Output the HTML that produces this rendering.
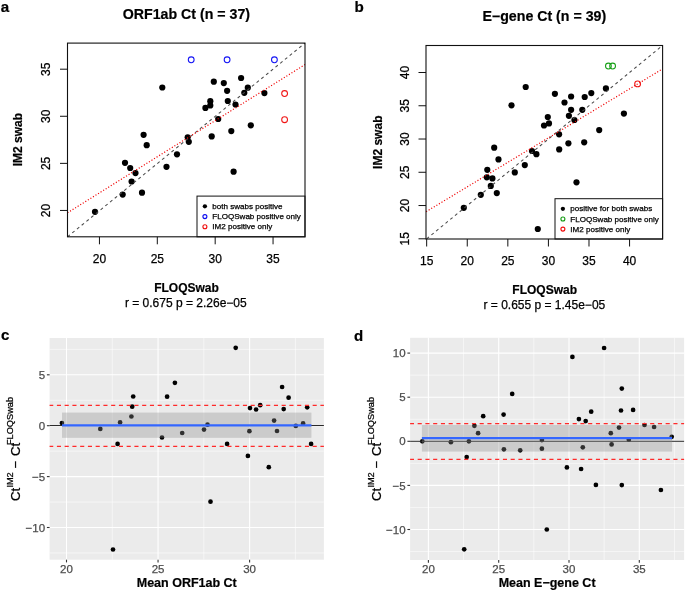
<!DOCTYPE html>
<html><head><meta charset="utf-8"><style>
html,body{margin:0;padding:0;background:#fff;}
body{width:685px;height:591px;overflow:hidden;}
svg{display:block;will-change:transform;font-family:"Liberation Sans", sans-serif;}
</style></head><body>
<svg width="685" height="591" viewBox="0 0 685 591">
<rect width="685" height="591" fill="#fff"/>
<text x="0.7" y="11.9" font-size="15.2" font-weight="bold" text-anchor="start" fill="#000" stroke="#000" stroke-width="0.2">a</text>
<text x="354.5" y="11.9" font-size="15.2" font-weight="bold" text-anchor="start" fill="#000" stroke="#000" stroke-width="0.2">b</text>
<text x="1" y="340.3" font-size="15" font-weight="bold" text-anchor="start" fill="#000" stroke="#000" stroke-width="0.2">c</text>
<text x="354.1" y="340.7" font-size="15" font-weight="bold" text-anchor="start" fill="#000" stroke="#000" stroke-width="0.2">d</text>
<text x="186.4" y="18.7" font-size="14.2" font-weight="bold" text-anchor="middle" fill="#000" stroke="#000" stroke-width="0.2">ORF1ab Ct (n = 37)</text>
<line x1="99.44" y1="236.8" x2="99.44" y2="244.3" stroke="#111" stroke-width="1"/>
<text x="99.44" y="263.4" font-size="12" text-anchor="middle" fill="#000" stroke="#000" stroke-width="0.25">20</text>
<line x1="60" y1="210.44" x2="67.5" y2="210.44" stroke="#111" stroke-width="1"/>
<text x="50.3" y="210.44" font-size="12" text-anchor="middle" fill="#000" stroke="#000" stroke-width="0.25" transform="rotate(-90 50.3 210.44)">20</text>
<line x1="157.31" y1="236.8" x2="157.31" y2="244.3" stroke="#111" stroke-width="1"/>
<text x="157.31" y="263.4" font-size="12" text-anchor="middle" fill="#000" stroke="#000" stroke-width="0.25">25</text>
<line x1="60" y1="163.36" x2="67.5" y2="163.36" stroke="#111" stroke-width="1"/>
<text x="50.3" y="163.36" font-size="12" text-anchor="middle" fill="#000" stroke="#000" stroke-width="0.25" transform="rotate(-90 50.3 163.36)">25</text>
<line x1="215.18" y1="236.8" x2="215.18" y2="244.3" stroke="#111" stroke-width="1"/>
<text x="215.18" y="263.4" font-size="12" text-anchor="middle" fill="#000" stroke="#000" stroke-width="0.25">30</text>
<line x1="60" y1="116.28" x2="67.5" y2="116.28" stroke="#111" stroke-width="1"/>
<text x="50.3" y="116.28" font-size="12" text-anchor="middle" fill="#000" stroke="#000" stroke-width="0.25" transform="rotate(-90 50.3 116.28)">30</text>
<line x1="273.05" y1="236.8" x2="273.05" y2="244.3" stroke="#111" stroke-width="1"/>
<text x="273.05" y="263.4" font-size="12" text-anchor="middle" fill="#000" stroke="#000" stroke-width="0.25">35</text>
<line x1="60" y1="69.2" x2="67.5" y2="69.2" stroke="#111" stroke-width="1"/>
<text x="50.3" y="69.2" font-size="12" text-anchor="middle" fill="#000" stroke="#000" stroke-width="0.25" transform="rotate(-90 50.3 69.2)">35</text>
<text x="21.7" y="139.6" font-size="12" font-weight="bold" text-anchor="middle" fill="#000" stroke="#000" stroke-width="0.2" transform="rotate(-90 21.7 139.6)">IM2 swab</text>
<text x="186.5" y="292.1" font-size="12" font-weight="bold" text-anchor="middle" fill="#000" stroke="#000" stroke-width="0.2">FLOQSwab</text>
<text x="185.8" y="306.8" font-size="12" text-anchor="middle" fill="#000" stroke="#000" stroke-width="0.25">r = 0.675 p = 2.26e−05</text>
<circle cx="162.3" cy="87.5" r="3.1" fill="#000" stroke="none" stroke-width="1"/>
<circle cx="143.6" cy="134.8" r="3.1" fill="#000" stroke="none" stroke-width="1"/>
<circle cx="213.8" cy="81.7" r="3.1" fill="#000" stroke="none" stroke-width="1"/>
<circle cx="223.8" cy="83.1" r="3.1" fill="#000" stroke="none" stroke-width="1"/>
<circle cx="241.1" cy="78" r="3.1" fill="#000" stroke="none" stroke-width="1"/>
<circle cx="247.8" cy="87.7" r="3.1" fill="#000" stroke="none" stroke-width="1"/>
<circle cx="227.1" cy="90.8" r="3.1" fill="#000" stroke="none" stroke-width="1"/>
<circle cx="244.3" cy="92.8" r="3.1" fill="#000" stroke="none" stroke-width="1"/>
<circle cx="264.4" cy="93.1" r="3.1" fill="#000" stroke="none" stroke-width="1"/>
<circle cx="210.3" cy="101.2" r="3.1" fill="#000" stroke="none" stroke-width="1"/>
<circle cx="227.8" cy="101" r="3.1" fill="#000" stroke="none" stroke-width="1"/>
<circle cx="210.3" cy="105.4" r="3.1" fill="#000" stroke="none" stroke-width="1"/>
<circle cx="205.4" cy="107.9" r="3.1" fill="#000" stroke="none" stroke-width="1"/>
<circle cx="235.5" cy="104.5" r="3.1" fill="#000" stroke="none" stroke-width="1"/>
<circle cx="218.2" cy="119" r="3.1" fill="#000" stroke="none" stroke-width="1"/>
<circle cx="250.8" cy="125.3" r="3.1" fill="#000" stroke="none" stroke-width="1"/>
<circle cx="231.3" cy="131.1" r="3.1" fill="#000" stroke="none" stroke-width="1"/>
<circle cx="211.7" cy="136.4" r="3.1" fill="#000" stroke="none" stroke-width="1"/>
<circle cx="187.7" cy="137.3" r="3.1" fill="#000" stroke="none" stroke-width="1"/>
<circle cx="188.8" cy="141.8" r="3.1" fill="#000" stroke="none" stroke-width="1"/>
<circle cx="146.7" cy="145.2" r="3.1" fill="#000" stroke="none" stroke-width="1"/>
<circle cx="177" cy="154.3" r="3.1" fill="#000" stroke="none" stroke-width="1"/>
<circle cx="125" cy="162.8" r="3.1" fill="#000" stroke="none" stroke-width="1"/>
<circle cx="130.2" cy="168" r="3.1" fill="#000" stroke="none" stroke-width="1"/>
<circle cx="135.5" cy="173.1" r="3.1" fill="#000" stroke="none" stroke-width="1"/>
<circle cx="166.5" cy="166.8" r="3.1" fill="#000" stroke="none" stroke-width="1"/>
<circle cx="131.6" cy="181.5" r="3.1" fill="#000" stroke="none" stroke-width="1"/>
<circle cx="122.7" cy="194.6" r="3.1" fill="#000" stroke="none" stroke-width="1"/>
<circle cx="142" cy="192.7" r="3.1" fill="#000" stroke="none" stroke-width="1"/>
<circle cx="95" cy="211.8" r="3.1" fill="#000" stroke="none" stroke-width="1"/>
<circle cx="233.6" cy="171.7" r="3.1" fill="#000" stroke="none" stroke-width="1"/>
<circle cx="191.2" cy="59.8" r="2.9" fill="none" stroke="#1515f5" stroke-width="1.05"/>
<circle cx="227.1" cy="59.8" r="2.9" fill="none" stroke="#1515f5" stroke-width="1.05"/>
<circle cx="274.4" cy="59.8" r="2.9" fill="none" stroke="#1515f5" stroke-width="1.05"/>
<circle cx="284.6" cy="93.5" r="2.9" fill="none" stroke="#f01515" stroke-width="1.05"/>
<circle cx="284.6" cy="119.7" r="2.9" fill="none" stroke="#f01515" stroke-width="1.05"/>
<line x1="67.5" y1="236.8" x2="305" y2="43.1" stroke="#4a4a4a" stroke-width="1.05" stroke-dasharray="3 3.1"/>
<line x1="67.5" y1="212.8" x2="305" y2="64.6" stroke="#f00000" stroke-width="1.2" stroke-dasharray="1.1 1.9"/>
<rect x="197" y="196.1" width="108" height="40.7" fill="#fff" stroke="#111" stroke-width="1"/>
<circle cx="204.9" cy="206.3" r="2.15" fill="#000" stroke="none" stroke-width="1"/>
<circle cx="204.9" cy="216.6" r="2" fill="none" stroke="#0a0af0" stroke-width="1.1"/>
<circle cx="204.9" cy="226.8" r="2" fill="none" stroke="#f00a0a" stroke-width="1.1"/>
<text x="212.3" y="208.9" font-size="8.05" text-anchor="start" fill="#000" stroke="#000" stroke-width="0.25">both swabs positive</text>
<text x="212.3" y="219.2" font-size="8.05" text-anchor="start" fill="#000" stroke="#000" stroke-width="0.25">FLOQSwab positive only</text>
<text x="212.3" y="229.4" font-size="8.05" text-anchor="start" fill="#000" stroke="#000" stroke-width="0.25">IM2 positive only</text>
<rect x="67.5" y="43.1" width="237.5" height="193.7" fill="none" stroke="#111" stroke-width="1.1"/>
<text x="544.3" y="20.8" font-size="14.2" font-weight="bold" text-anchor="middle" fill="#000" stroke="#000" stroke-width="0.2">E−gene Ct (n = 39)</text>
<line x1="426.67" y1="239" x2="426.67" y2="246.5" stroke="#111" stroke-width="1"/>
<text x="426.67" y="265.4" font-size="12" text-anchor="middle" fill="#000" stroke="#000" stroke-width="0.25">15</text>
<line x1="418.5" y1="238.8" x2="426" y2="238.8" stroke="#111" stroke-width="1"/>
<text x="409.1" y="238.8" font-size="12" text-anchor="middle" fill="#000" stroke="#000" stroke-width="0.25" transform="rotate(-90 409.1 238.8)">15</text>
<line x1="467.25" y1="239" x2="467.25" y2="246.5" stroke="#111" stroke-width="1"/>
<text x="467.25" y="265.4" font-size="12" text-anchor="middle" fill="#000" stroke="#000" stroke-width="0.25">20</text>
<line x1="418.5" y1="205.54" x2="426" y2="205.54" stroke="#111" stroke-width="1"/>
<text x="409.1" y="205.54" font-size="12" text-anchor="middle" fill="#000" stroke="#000" stroke-width="0.25" transform="rotate(-90 409.1 205.54)">20</text>
<line x1="507.83" y1="239" x2="507.83" y2="246.5" stroke="#111" stroke-width="1"/>
<text x="507.83" y="265.4" font-size="12" text-anchor="middle" fill="#000" stroke="#000" stroke-width="0.25">25</text>
<line x1="418.5" y1="172.28" x2="426" y2="172.28" stroke="#111" stroke-width="1"/>
<text x="409.1" y="172.28" font-size="12" text-anchor="middle" fill="#000" stroke="#000" stroke-width="0.25" transform="rotate(-90 409.1 172.28)">25</text>
<line x1="548.41" y1="239" x2="548.41" y2="246.5" stroke="#111" stroke-width="1"/>
<text x="548.41" y="265.4" font-size="12" text-anchor="middle" fill="#000" stroke="#000" stroke-width="0.25">30</text>
<line x1="418.5" y1="139.02" x2="426" y2="139.02" stroke="#111" stroke-width="1"/>
<text x="409.1" y="139.02" font-size="12" text-anchor="middle" fill="#000" stroke="#000" stroke-width="0.25" transform="rotate(-90 409.1 139.02)">30</text>
<line x1="588.99" y1="239" x2="588.99" y2="246.5" stroke="#111" stroke-width="1"/>
<text x="588.99" y="265.4" font-size="12" text-anchor="middle" fill="#000" stroke="#000" stroke-width="0.25">35</text>
<line x1="418.5" y1="105.76" x2="426" y2="105.76" stroke="#111" stroke-width="1"/>
<text x="409.1" y="105.76" font-size="12" text-anchor="middle" fill="#000" stroke="#000" stroke-width="0.25" transform="rotate(-90 409.1 105.76)">35</text>
<line x1="629.57" y1="239" x2="629.57" y2="246.5" stroke="#111" stroke-width="1"/>
<text x="629.57" y="265.4" font-size="12" text-anchor="middle" fill="#000" stroke="#000" stroke-width="0.25">40</text>
<line x1="418.5" y1="72.5" x2="426" y2="72.5" stroke="#111" stroke-width="1"/>
<text x="409.1" y="72.5" font-size="12" text-anchor="middle" fill="#000" stroke="#000" stroke-width="0.25" transform="rotate(-90 409.1 72.5)">40</text>
<text x="382" y="142.2" font-size="12" font-weight="bold" text-anchor="middle" fill="#000" stroke="#000" stroke-width="0.2" transform="rotate(-90 382 142.2)">IM2 swab</text>
<text x="544.7" y="294.2" font-size="12" font-weight="bold" text-anchor="middle" fill="#000" stroke="#000" stroke-width="0.2">FLOQSwab</text>
<text x="544.35" y="309.2" font-size="12" text-anchor="middle" fill="#000" stroke="#000" stroke-width="0.25">r = 0.655 p = 1.45e−05</text>
<circle cx="525.7" cy="87" r="3.1" fill="#000" stroke="none" stroke-width="1"/>
<circle cx="511.5" cy="105.3" r="3.1" fill="#000" stroke="none" stroke-width="1"/>
<circle cx="554.9" cy="93.85" r="3.1" fill="#000" stroke="none" stroke-width="1"/>
<circle cx="571.1" cy="96.5" r="3.1" fill="#000" stroke="none" stroke-width="1"/>
<circle cx="564.5" cy="102.5" r="3.1" fill="#000" stroke="none" stroke-width="1"/>
<circle cx="584.7" cy="97" r="3.1" fill="#000" stroke="none" stroke-width="1"/>
<circle cx="591.3" cy="93.1" r="3.1" fill="#000" stroke="none" stroke-width="1"/>
<circle cx="605.9" cy="88.4" r="3.1" fill="#000" stroke="none" stroke-width="1"/>
<circle cx="571.1" cy="109.8" r="3.1" fill="#000" stroke="none" stroke-width="1"/>
<circle cx="582.3" cy="109.8" r="3.1" fill="#000" stroke="none" stroke-width="1"/>
<circle cx="568.9" cy="115.8" r="3.1" fill="#000" stroke="none" stroke-width="1"/>
<circle cx="574.4" cy="120" r="3.1" fill="#000" stroke="none" stroke-width="1"/>
<circle cx="547.8" cy="117" r="3.1" fill="#000" stroke="none" stroke-width="1"/>
<circle cx="549" cy="123.4" r="3.1" fill="#000" stroke="none" stroke-width="1"/>
<circle cx="544" cy="125.5" r="3.1" fill="#000" stroke="none" stroke-width="1"/>
<circle cx="623.9" cy="113.6" r="3.1" fill="#000" stroke="none" stroke-width="1"/>
<circle cx="559.1" cy="134.3" r="3.1" fill="#000" stroke="none" stroke-width="1"/>
<circle cx="599.2" cy="130.1" r="3.1" fill="#000" stroke="none" stroke-width="1"/>
<circle cx="568.4" cy="143.3" r="3.1" fill="#000" stroke="none" stroke-width="1"/>
<circle cx="584.2" cy="142.3" r="3.1" fill="#000" stroke="none" stroke-width="1"/>
<circle cx="559.2" cy="149.4" r="3.1" fill="#000" stroke="none" stroke-width="1"/>
<circle cx="576.5" cy="182.3" r="3.1" fill="#000" stroke="none" stroke-width="1"/>
<circle cx="494.2" cy="147.7" r="3.1" fill="#000" stroke="none" stroke-width="1"/>
<circle cx="498.5" cy="159.4" r="3.1" fill="#000" stroke="none" stroke-width="1"/>
<circle cx="532" cy="151" r="3.1" fill="#000" stroke="none" stroke-width="1"/>
<circle cx="536.4" cy="154.2" r="3.1" fill="#000" stroke="none" stroke-width="1"/>
<circle cx="524.8" cy="165.1" r="3.1" fill="#000" stroke="none" stroke-width="1"/>
<circle cx="514.8" cy="172.4" r="3.1" fill="#000" stroke="none" stroke-width="1"/>
<circle cx="487.3" cy="169.8" r="3.1" fill="#000" stroke="none" stroke-width="1"/>
<circle cx="486.8" cy="177.3" r="3.1" fill="#000" stroke="none" stroke-width="1"/>
<circle cx="492.4" cy="178.4" r="3.1" fill="#000" stroke="none" stroke-width="1"/>
<circle cx="490.8" cy="185.9" r="3.1" fill="#000" stroke="none" stroke-width="1"/>
<circle cx="480.8" cy="194.8" r="3.1" fill="#000" stroke="none" stroke-width="1"/>
<circle cx="496.8" cy="193.1" r="3.1" fill="#000" stroke="none" stroke-width="1"/>
<circle cx="463.8" cy="207.8" r="3.1" fill="#000" stroke="none" stroke-width="1"/>
<circle cx="537.8" cy="229" r="3.1" fill="#000" stroke="none" stroke-width="1"/>
<circle cx="608.4" cy="66" r="2.9" fill="none" stroke="#18a018" stroke-width="1.05"/>
<circle cx="612.6" cy="66" r="2.9" fill="none" stroke="#18a018" stroke-width="1.05"/>
<circle cx="637.6" cy="83.9" r="2.9" fill="none" stroke="#f01515" stroke-width="1.05"/>
<line x1="426.67" y1="238.8" x2="662.03" y2="45.89" stroke="#4a4a4a" stroke-width="1.05" stroke-dasharray="3 3.1"/>
<line x1="426.1" y1="211.7" x2="662.6" y2="68.9" stroke="#f00000" stroke-width="1.2" stroke-dasharray="1.1 1.9"/>
<rect x="555" y="198.7" width="107.6" height="40.3" fill="#fff" stroke="#111" stroke-width="1"/>
<circle cx="562.9" cy="208.8" r="2.15" fill="#000" stroke="none" stroke-width="1"/>
<circle cx="562.9" cy="219" r="2" fill="none" stroke="#109a10" stroke-width="1.1"/>
<circle cx="562.9" cy="229.1" r="2" fill="none" stroke="#f00a0a" stroke-width="1.1"/>
<text x="570.3" y="211.4" font-size="8.05" text-anchor="start" fill="#000" stroke="#000" stroke-width="0.25">positive for both swabs</text>
<text x="570.3" y="221.6" font-size="8.05" text-anchor="start" fill="#000" stroke="#000" stroke-width="0.25">FLOQSwab positive only</text>
<text x="570.3" y="231.7" font-size="8.05" text-anchor="start" fill="#000" stroke="#000" stroke-width="0.25">IM2 positive only</text>
<rect x="426" y="45.5" width="236.6" height="193.5" fill="none" stroke="#111" stroke-width="1.1"/>
<rect x="49.6" y="338" width="274.3" height="221.7" fill="#ebebeb" stroke="none" stroke-width="1"/>
<line x1="112.28" y1="338" x2="112.28" y2="559.7" stroke="#fff" stroke-width="0.55"/>
<line x1="203.82" y1="338" x2="203.82" y2="559.7" stroke="#fff" stroke-width="0.55"/>
<line x1="295.38" y1="338" x2="295.38" y2="559.7" stroke="#fff" stroke-width="0.55"/>
<line x1="49.6" y1="349.35" x2="323.9" y2="349.35" stroke="#fff" stroke-width="0.55"/>
<line x1="49.6" y1="400.25" x2="323.9" y2="400.25" stroke="#fff" stroke-width="0.55"/>
<line x1="49.6" y1="451.15" x2="323.9" y2="451.15" stroke="#fff" stroke-width="0.55"/>
<line x1="49.6" y1="502.05" x2="323.9" y2="502.05" stroke="#fff" stroke-width="0.55"/>
<line x1="49.6" y1="552.95" x2="323.9" y2="552.95" stroke="#fff" stroke-width="0.55"/>
<line x1="66.5" y1="338" x2="66.5" y2="559.7" stroke="#fff" stroke-width="1.1"/>
<line x1="158.05" y1="338" x2="158.05" y2="559.7" stroke="#fff" stroke-width="1.1"/>
<line x1="249.6" y1="338" x2="249.6" y2="559.7" stroke="#fff" stroke-width="1.1"/>
<line x1="49.6" y1="374.8" x2="323.9" y2="374.8" stroke="#fff" stroke-width="1.1"/>
<line x1="49.6" y1="425.7" x2="323.9" y2="425.7" stroke="#fff" stroke-width="1.1"/>
<line x1="49.6" y1="476.6" x2="323.9" y2="476.6" stroke="#fff" stroke-width="1.1"/>
<line x1="49.6" y1="527.5" x2="323.9" y2="527.5" stroke="#fff" stroke-width="1.1"/>
<circle cx="61.9" cy="423" r="2.35" fill="#000" stroke="none" stroke-width="1"/>
<circle cx="100.3" cy="428.9" r="2.35" fill="#000" stroke="none" stroke-width="1"/>
<circle cx="120.1" cy="422.4" r="2.35" fill="#000" stroke="none" stroke-width="1"/>
<circle cx="131.4" cy="416.5" r="2.35" fill="#000" stroke="none" stroke-width="1"/>
<circle cx="132.2" cy="406.7" r="2.35" fill="#000" stroke="none" stroke-width="1"/>
<circle cx="133.2" cy="396.5" r="2.35" fill="#000" stroke="none" stroke-width="1"/>
<circle cx="117.6" cy="443.9" r="2.35" fill="#000" stroke="none" stroke-width="1"/>
<circle cx="167.1" cy="396.7" r="2.35" fill="#000" stroke="none" stroke-width="1"/>
<circle cx="174.9" cy="382.8" r="2.35" fill="#000" stroke="none" stroke-width="1"/>
<circle cx="162" cy="437.5" r="2.35" fill="#000" stroke="none" stroke-width="1"/>
<circle cx="182.2" cy="433" r="2.35" fill="#000" stroke="none" stroke-width="1"/>
<circle cx="235.7" cy="347.8" r="2.35" fill="#000" stroke="none" stroke-width="1"/>
<circle cx="282.1" cy="387" r="2.35" fill="#000" stroke="none" stroke-width="1"/>
<circle cx="288.6" cy="397.7" r="2.35" fill="#000" stroke="none" stroke-width="1"/>
<circle cx="250" cy="408.1" r="2.35" fill="#000" stroke="none" stroke-width="1"/>
<circle cx="256.1" cy="409.5" r="2.35" fill="#000" stroke="none" stroke-width="1"/>
<circle cx="260.2" cy="405.2" r="2.35" fill="#000" stroke="none" stroke-width="1"/>
<circle cx="283.7" cy="409.1" r="2.35" fill="#000" stroke="none" stroke-width="1"/>
<circle cx="307.2" cy="407.3" r="2.35" fill="#000" stroke="none" stroke-width="1"/>
<circle cx="274.1" cy="420.6" r="2.35" fill="#000" stroke="none" stroke-width="1"/>
<circle cx="303.1" cy="423.4" r="2.35" fill="#000" stroke="none" stroke-width="1"/>
<circle cx="295.8" cy="425.9" r="2.35" fill="#000" stroke="none" stroke-width="1"/>
<circle cx="207.5" cy="424.7" r="2.35" fill="#000" stroke="none" stroke-width="1"/>
<circle cx="204" cy="429.6" r="2.35" fill="#000" stroke="none" stroke-width="1"/>
<circle cx="249.4" cy="431.2" r="2.35" fill="#000" stroke="none" stroke-width="1"/>
<circle cx="277" cy="431" r="2.35" fill="#000" stroke="none" stroke-width="1"/>
<circle cx="227.1" cy="443.9" r="2.35" fill="#000" stroke="none" stroke-width="1"/>
<circle cx="311.1" cy="443.9" r="2.35" fill="#000" stroke="none" stroke-width="1"/>
<circle cx="113" cy="549.5" r="2.35" fill="#000" stroke="none" stroke-width="1"/>
<circle cx="247.9" cy="455.9" r="2.35" fill="#000" stroke="none" stroke-width="1"/>
<circle cx="268.8" cy="467.2" r="2.35" fill="#000" stroke="none" stroke-width="1"/>
<circle cx="210.5" cy="501.7" r="2.35" fill="#000" stroke="none" stroke-width="1"/>
<line x1="49.6" y1="425.5" x2="323.9" y2="425.5" stroke="#2a2a2a" stroke-width="1"/>
<rect x="62" y="412.6" width="249.4" height="25.2" fill="rgba(140,140,140,0.34)" stroke="none" stroke-width="1"/>
<line x1="62" y1="425.35" x2="311.4" y2="425.35" stroke="#3366ff" stroke-width="2.1"/>
<line x1="49.6" y1="405.4" x2="323.9" y2="405.4" stroke="#ff2a2a" stroke-width="1.1" stroke-dasharray="4.1 3.65" stroke-dashoffset="0.45"/>
<line x1="49.6" y1="446.4" x2="323.9" y2="446.4" stroke="#ff2a2a" stroke-width="1.1" stroke-dasharray="4.1 3.65" stroke-dashoffset="0.45"/>
<line x1="66.5" y1="559.7" x2="66.5" y2="562.4" stroke="#333333" stroke-width="1.1"/>
<text x="66.5" y="573" font-size="11.5" text-anchor="middle" fill="#4d4d4d" stroke="#4d4d4d" stroke-width="0.25">20</text>
<line x1="158.05" y1="559.7" x2="158.05" y2="562.4" stroke="#333333" stroke-width="1.1"/>
<text x="158.05" y="573" font-size="11.5" text-anchor="middle" fill="#4d4d4d" stroke="#4d4d4d" stroke-width="0.25">25</text>
<line x1="249.6" y1="559.7" x2="249.6" y2="562.4" stroke="#333333" stroke-width="1.1"/>
<text x="249.6" y="573" font-size="11.5" text-anchor="middle" fill="#4d4d4d" stroke="#4d4d4d" stroke-width="0.25">30</text>
<line x1="46.9" y1="374.8" x2="49.6" y2="374.8" stroke="#333333" stroke-width="1.1"/>
<text x="45.1" y="378.9" font-size="11.5" text-anchor="end" fill="#4d4d4d" stroke="#4d4d4d" stroke-width="0.25">5</text>
<line x1="46.9" y1="425.7" x2="49.6" y2="425.7" stroke="#333333" stroke-width="1.1"/>
<text x="45.1" y="429.8" font-size="11.5" text-anchor="end" fill="#4d4d4d" stroke="#4d4d4d" stroke-width="0.25">0</text>
<line x1="46.9" y1="476.6" x2="49.6" y2="476.6" stroke="#333333" stroke-width="1.1"/>
<text x="45.1" y="480.7" font-size="11.5" text-anchor="end" fill="#4d4d4d" stroke="#4d4d4d" stroke-width="0.25">−5</text>
<line x1="46.9" y1="527.5" x2="49.6" y2="527.5" stroke="#333333" stroke-width="1.1"/>
<text x="45.1" y="531.6" font-size="11.5" text-anchor="end" fill="#4d4d4d" stroke="#4d4d4d" stroke-width="0.25">−10</text>
<text x="186.75" y="586.5" font-size="12.5" font-weight="bold" text-anchor="middle" fill="#000" stroke="#000" stroke-width="0.2">Mean ORF1ab Ct</text>
<text x="19.8" y="501" font-size="13.3" stroke="#000" stroke-width="0.25" transform="rotate(-90 19.8 501)">Ct</text>
<text x="12.9" y="487.6" font-size="9.2" stroke="#000" stroke-width="0.25" transform="rotate(-90 12.9 487.6)">IM2</text>
<text x="19.8" y="468.6" font-size="13.3" stroke="#000" stroke-width="0.25" transform="rotate(-90 19.8 468.6)">−</text>
<text x="19.8" y="456" font-size="13.3" stroke="#000" stroke-width="0.25" transform="rotate(-90 19.8 456)">Ct</text>
<text x="12.9" y="445" font-size="9.2" stroke="#000" stroke-width="0.25" transform="rotate(-90 12.9 445)">FLOQSwab</text>
<rect x="410.1" y="337.8" width="274" height="222.2" fill="#ebebeb" stroke="none" stroke-width="1"/>
<line x1="463.55" y1="337.8" x2="463.55" y2="560" stroke="#fff" stroke-width="0.55"/>
<line x1="533.85" y1="337.8" x2="533.85" y2="560" stroke="#fff" stroke-width="0.55"/>
<line x1="604.15" y1="337.8" x2="604.15" y2="560" stroke="#fff" stroke-width="0.55"/>
<line x1="674.45" y1="337.8" x2="674.45" y2="560" stroke="#fff" stroke-width="0.55"/>
<line x1="410.1" y1="375.15" x2="684.1" y2="375.15" stroke="#fff" stroke-width="0.55"/>
<line x1="410.1" y1="419.25" x2="684.1" y2="419.25" stroke="#fff" stroke-width="0.55"/>
<line x1="410.1" y1="463.35" x2="684.1" y2="463.35" stroke="#fff" stroke-width="0.55"/>
<line x1="410.1" y1="507.45" x2="684.1" y2="507.45" stroke="#fff" stroke-width="0.55"/>
<line x1="410.1" y1="551.55" x2="684.1" y2="551.55" stroke="#fff" stroke-width="0.55"/>
<line x1="428.4" y1="337.8" x2="428.4" y2="560" stroke="#fff" stroke-width="1.1"/>
<line x1="498.7" y1="337.8" x2="498.7" y2="560" stroke="#fff" stroke-width="1.1"/>
<line x1="569" y1="337.8" x2="569" y2="560" stroke="#fff" stroke-width="1.1"/>
<line x1="639.3" y1="337.8" x2="639.3" y2="560" stroke="#fff" stroke-width="1.1"/>
<line x1="410.1" y1="353.1" x2="684.1" y2="353.1" stroke="#fff" stroke-width="1.1"/>
<line x1="410.1" y1="397.2" x2="684.1" y2="397.2" stroke="#fff" stroke-width="1.1"/>
<line x1="410.1" y1="441.3" x2="684.1" y2="441.3" stroke="#fff" stroke-width="1.1"/>
<line x1="410.1" y1="485.4" x2="684.1" y2="485.4" stroke="#fff" stroke-width="1.1"/>
<line x1="410.1" y1="529.5" x2="684.1" y2="529.5" stroke="#fff" stroke-width="1.1"/>
<circle cx="604.1" cy="348" r="2.35" fill="#000" stroke="none" stroke-width="1"/>
<circle cx="572.4" cy="356.9" r="2.35" fill="#000" stroke="none" stroke-width="1"/>
<circle cx="422.3" cy="441.3" r="2.35" fill="#000" stroke="none" stroke-width="1"/>
<circle cx="450.9" cy="442.2" r="2.35" fill="#000" stroke="none" stroke-width="1"/>
<circle cx="468.9" cy="441.3" r="2.35" fill="#000" stroke="none" stroke-width="1"/>
<circle cx="478.1" cy="433.2" r="2.35" fill="#000" stroke="none" stroke-width="1"/>
<circle cx="474.4" cy="425.8" r="2.35" fill="#000" stroke="none" stroke-width="1"/>
<circle cx="483.2" cy="416.2" r="2.35" fill="#000" stroke="none" stroke-width="1"/>
<circle cx="503.6" cy="414.6" r="2.35" fill="#000" stroke="none" stroke-width="1"/>
<circle cx="512.2" cy="393.9" r="2.35" fill="#000" stroke="none" stroke-width="1"/>
<circle cx="466.7" cy="457.1" r="2.35" fill="#000" stroke="none" stroke-width="1"/>
<circle cx="503.9" cy="449.3" r="2.35" fill="#000" stroke="none" stroke-width="1"/>
<circle cx="520.2" cy="450.3" r="2.35" fill="#000" stroke="none" stroke-width="1"/>
<circle cx="541.9" cy="440.1" r="2.35" fill="#000" stroke="none" stroke-width="1"/>
<circle cx="541.9" cy="448.7" r="2.35" fill="#000" stroke="none" stroke-width="1"/>
<circle cx="621.8" cy="388.6" r="2.35" fill="#000" stroke="none" stroke-width="1"/>
<circle cx="621" cy="410.5" r="2.35" fill="#000" stroke="none" stroke-width="1"/>
<circle cx="633.1" cy="409.9" r="2.35" fill="#000" stroke="none" stroke-width="1"/>
<circle cx="591.2" cy="411.7" r="2.35" fill="#000" stroke="none" stroke-width="1"/>
<circle cx="578.9" cy="419.1" r="2.35" fill="#000" stroke="none" stroke-width="1"/>
<circle cx="585.7" cy="421.1" r="2.35" fill="#000" stroke="none" stroke-width="1"/>
<circle cx="619" cy="427.6" r="2.35" fill="#000" stroke="none" stroke-width="1"/>
<circle cx="610.8" cy="433.2" r="2.35" fill="#000" stroke="none" stroke-width="1"/>
<circle cx="644.5" cy="425" r="2.35" fill="#000" stroke="none" stroke-width="1"/>
<circle cx="654.1" cy="427" r="2.35" fill="#000" stroke="none" stroke-width="1"/>
<circle cx="671.7" cy="436.8" r="2.35" fill="#000" stroke="none" stroke-width="1"/>
<circle cx="628.8" cy="439.7" r="2.35" fill="#000" stroke="none" stroke-width="1"/>
<circle cx="582.8" cy="447.3" r="2.35" fill="#000" stroke="none" stroke-width="1"/>
<circle cx="611.6" cy="444.4" r="2.35" fill="#000" stroke="none" stroke-width="1"/>
<circle cx="566.9" cy="467.4" r="2.35" fill="#000" stroke="none" stroke-width="1"/>
<circle cx="581.1" cy="469" r="2.35" fill="#000" stroke="none" stroke-width="1"/>
<circle cx="464.2" cy="549.3" r="2.35" fill="#000" stroke="none" stroke-width="1"/>
<circle cx="546.8" cy="529.5" r="2.35" fill="#000" stroke="none" stroke-width="1"/>
<circle cx="595.9" cy="484.9" r="2.35" fill="#000" stroke="none" stroke-width="1"/>
<circle cx="621.8" cy="485.1" r="2.35" fill="#000" stroke="none" stroke-width="1"/>
<circle cx="660.9" cy="490" r="2.35" fill="#000" stroke="none" stroke-width="1"/>
<line x1="410.1" y1="441.3" x2="684.1" y2="441.3" stroke="#2a2a2a" stroke-width="1"/>
<rect x="421.9" y="425" width="250.2" height="26.6" fill="rgba(140,140,140,0.34)" stroke="none" stroke-width="1"/>
<line x1="421.9" y1="438.1" x2="672.1" y2="438.1" stroke="#3366ff" stroke-width="2.1"/>
<line x1="410.1" y1="423.6" x2="684.1" y2="423.6" stroke="#ff2a2a" stroke-width="1.1" stroke-dasharray="4.1 3.65" stroke-dashoffset="0.2"/>
<line x1="410.1" y1="459.35" x2="684.1" y2="459.35" stroke="#ff2a2a" stroke-width="1.1" stroke-dasharray="4.1 3.65" stroke-dashoffset="0.2"/>
<line x1="428.4" y1="560" x2="428.4" y2="562.7" stroke="#333333" stroke-width="1.1"/>
<text x="428.4" y="573" font-size="11.5" text-anchor="middle" fill="#4d4d4d" stroke="#4d4d4d" stroke-width="0.25">20</text>
<line x1="498.7" y1="560" x2="498.7" y2="562.7" stroke="#333333" stroke-width="1.1"/>
<text x="498.7" y="573" font-size="11.5" text-anchor="middle" fill="#4d4d4d" stroke="#4d4d4d" stroke-width="0.25">25</text>
<line x1="569" y1="560" x2="569" y2="562.7" stroke="#333333" stroke-width="1.1"/>
<text x="569" y="573" font-size="11.5" text-anchor="middle" fill="#4d4d4d" stroke="#4d4d4d" stroke-width="0.25">30</text>
<line x1="639.3" y1="560" x2="639.3" y2="562.7" stroke="#333333" stroke-width="1.1"/>
<text x="639.3" y="573" font-size="11.5" text-anchor="middle" fill="#4d4d4d" stroke="#4d4d4d" stroke-width="0.25">35</text>
<line x1="407.4" y1="353.1" x2="410.1" y2="353.1" stroke="#333333" stroke-width="1.1"/>
<text x="405.6" y="357.2" font-size="11.5" text-anchor="end" fill="#4d4d4d" stroke="#4d4d4d" stroke-width="0.25">10</text>
<line x1="407.4" y1="397.2" x2="410.1" y2="397.2" stroke="#333333" stroke-width="1.1"/>
<text x="405.6" y="401.3" font-size="11.5" text-anchor="end" fill="#4d4d4d" stroke="#4d4d4d" stroke-width="0.25">5</text>
<line x1="407.4" y1="441.3" x2="410.1" y2="441.3" stroke="#333333" stroke-width="1.1"/>
<text x="405.6" y="445.4" font-size="11.5" text-anchor="end" fill="#4d4d4d" stroke="#4d4d4d" stroke-width="0.25">0</text>
<line x1="407.4" y1="485.4" x2="410.1" y2="485.4" stroke="#333333" stroke-width="1.1"/>
<text x="405.6" y="489.5" font-size="11.5" text-anchor="end" fill="#4d4d4d" stroke="#4d4d4d" stroke-width="0.25">−5</text>
<line x1="407.4" y1="529.5" x2="410.1" y2="529.5" stroke="#333333" stroke-width="1.1"/>
<text x="405.6" y="533.6" font-size="11.5" text-anchor="end" fill="#4d4d4d" stroke="#4d4d4d" stroke-width="0.25">−10</text>
<text x="547.1" y="586.5" font-size="12.5" font-weight="bold" text-anchor="middle" fill="#000" stroke="#000" stroke-width="0.2">Mean E−gene Ct</text>
<text x="380.7" y="501" font-size="13.3" stroke="#000" stroke-width="0.25" transform="rotate(-90 380.7 501)">Ct</text>
<text x="373.8" y="487.6" font-size="9.2" stroke="#000" stroke-width="0.25" transform="rotate(-90 373.8 487.6)">IM2</text>
<text x="380.7" y="468.6" font-size="13.3" stroke="#000" stroke-width="0.25" transform="rotate(-90 380.7 468.6)">−</text>
<text x="380.7" y="456" font-size="13.3" stroke="#000" stroke-width="0.25" transform="rotate(-90 380.7 456)">Ct</text>
<text x="373.8" y="445" font-size="9.2" stroke="#000" stroke-width="0.25" transform="rotate(-90 373.8 445)">FLOQSwab</text>
</svg>
</body></html>
